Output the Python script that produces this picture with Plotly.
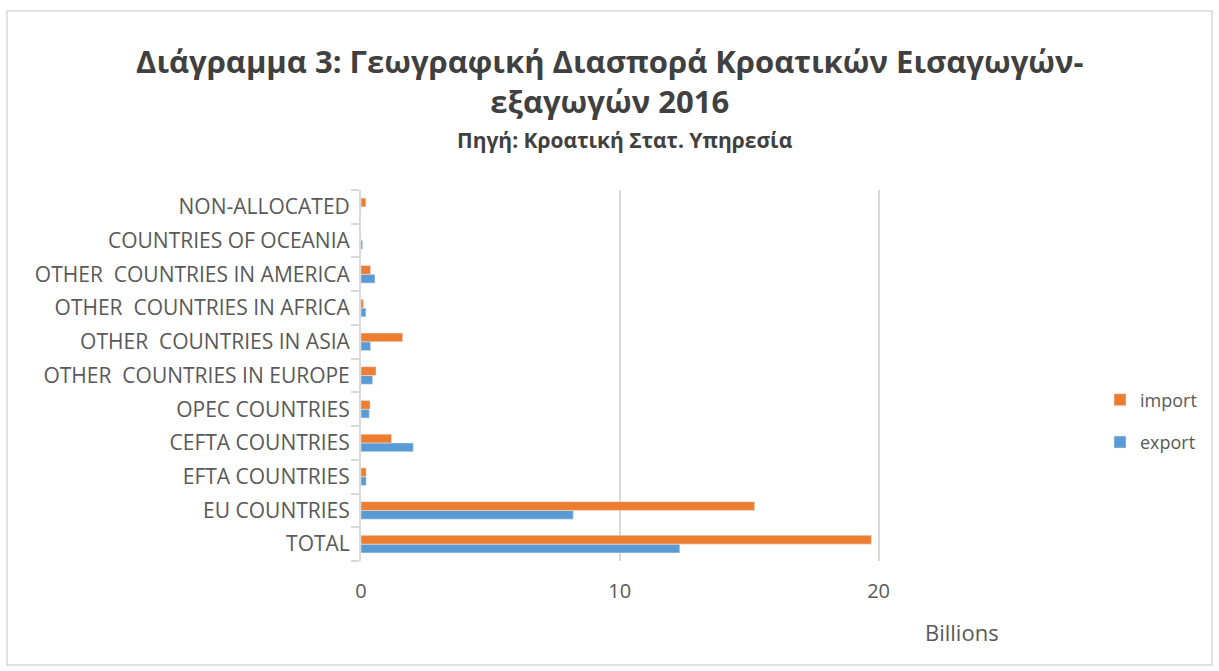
import plotly.graph_objects as go

categories = [
    "TOTAL",
    "EU COUNTRIES",
    "EFTA COUNTRIES",
    "CEFTA COUNTRIES",
    "OPEC COUNTRIES",
    "OTHER\u00a0 COUNTRIES IN EUROPE",
    "OTHER\u00a0 COUNTRIES IN ASIA",
    "OTHER\u00a0 COUNTRIES IN AFRICA",
    "OTHER\u00a0 COUNTRIES IN AMERICA",
    "COUNTRIES OF OCEANIA",
    "NON-ALLOCATED",
]
# values in billions
export_vals = [12.32, 8.2, 0.2, 2.02, 0.32, 0.45, 0.37, 0.19, 0.54, 0.06, 0.0]
import_vals = [19.72, 15.21, 0.2, 1.18, 0.35, 0.58, 1.61, 0.09, 0.37, 0.0, 0.19]
x_ticks = [0, 10, 20]

FONT = "Open Sans"
W, H = 1219, 671
L, R, T, B = 361, 1008, 190, 561
pw, ph = R - L, B - T

def px(x):
    return (x - L) / pw

def py(y):
    return (B - y) / ph

fig = go.Figure()
fig.add_trace(go.Bar(y=categories, x=export_vals, name="export", orientation="h",
                     marker=dict(color="#5b9bd5"), legendgroup="e", legendrank=2))
fig.add_trace(go.Bar(y=categories, x=import_vals, name="import", orientation="h",
                     marker=dict(color="#ed7d31"), legendgroup="i", legendrank=1))

fig.update_layout(
    width=W, height=H,
    paper_bgcolor="white", plot_bgcolor="white",
    margin=dict(l=L, r=W - R, t=T, b=H - B),
    barmode="group", bargap=0.48, bargroupgap=0,
    font=dict(family=FONT, color="#595959"),
    showlegend=True,
    legend=dict(traceorder="grouped", x=px(1100), y=py(421),
                xanchor="left", yanchor="middle",
                font=dict(size=18, color="#595959"), tracegroupgap=16,
                bgcolor="rgba(0,0,0,0)", itemwidth=30),
    xaxis=dict(range=[0, 25], tickvals=x_ticks, showgrid=True, gridcolor="#d9d9d9",
               gridwidth=1.5, zeroline=False, showline=False,
               tickfont=dict(size=20, color="#595959"), ticklabelstandoff=16),
    yaxis=dict(type="category", showline=True, linecolor="#d9d9d9", linewidth=2,
               ticks="outside", ticklen=8, tickcolor="#d9d9d9", tickwidth=2,
               tickson="boundaries", showgrid=False,
               tickfont=dict(size=21, color="#595959"), ticklabelstandoff=5),
    annotations=[
        dict(text="<b>Διάγραμμα 3: Γεωγραφική Διασπορά Κροατικών Εισαγωγών-<br>εξαγωγών 2016</b>",
             xref="paper", yref="paper", x=px(609), y=py(81), showarrow=False,
             xanchor="center", yanchor="middle",
             font=dict(family=FONT, size=31, color="#404040")),
        dict(text="<b>Πηγή: Κροατική Στατ. Υπηρεσία</b>", xref="paper", yref="paper",
             x=px(625), y=py(140), showarrow=False, xanchor="center", yanchor="middle",
             font=dict(family=FONT, size=21, color="#404040")),
        dict(text="Billions", xref="paper", yref="paper", x=px(962), y=py(632),
             showarrow=False, xanchor="center", yanchor="middle",
             font=dict(family=FONT, size=22, color="#595959")),
    ],
)

fig.add_shape(type="rect", xref="paper", yref="paper",
              x0=px(7), x1=px(1212), y0=py(665), y1=py(11),
              line=dict(color="#d9d9d9", width=1.5), layer="below")

fig.write_html("out.html", config={"displayModeBar": False},
               post_script="document.body.style.margin='0';")
